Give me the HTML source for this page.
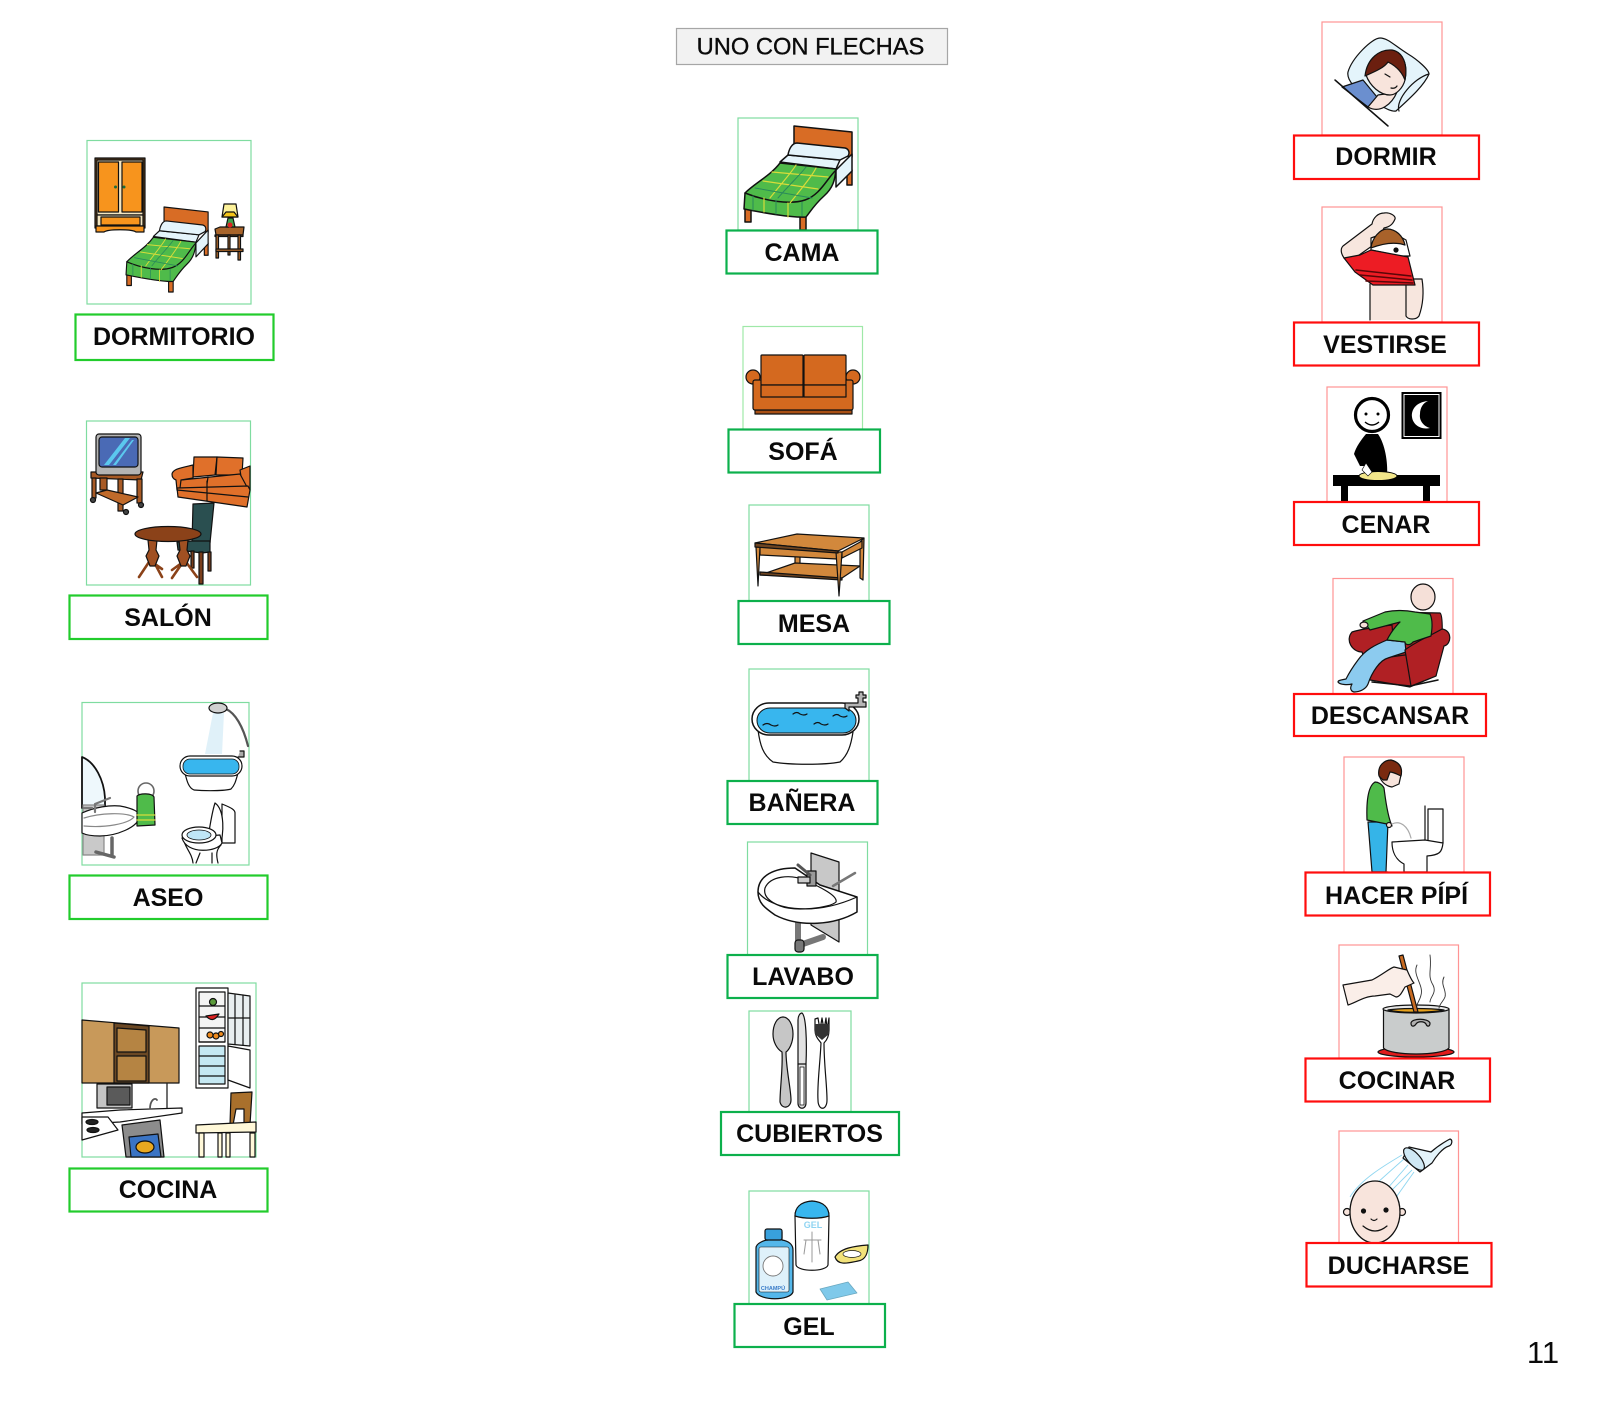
<!DOCTYPE html>
<html lang="es"><head><meta charset="utf-8"><title>UNO CON FLECHAS</title>
<style>
html,body{margin:0;padding:0;background:#fff}
svg{display:block;filter:blur(.35px)}
.t{font-family:"Liberation Sans",Arial,sans-serif;font-weight:700;font-size:25px;text-anchor:middle;fill:#0a0a0a}
.bl{fill:none;stroke:#7fdca0;stroke-width:1.2}
.br{fill:none;stroke:#ff9494;stroke-width:1.2}
.lg{fill:#fff;stroke:#22cc2c;stroke-width:2.2}
.lc{fill:#fff;stroke:#0cb04c;stroke-width:2.2}
.lr{fill:#fff;stroke:#ff0d0d;stroke-width:2.2}
.o{stroke:#111;stroke-width:1.2;stroke-linejoin:round;stroke-linecap:round}
.n{fill:none}
</style></head><body>
<svg xmlns="http://www.w3.org/2000/svg" width="1600" height="1404" viewBox="0 0 1600 1404">
<defs>
<g id="bed" class="o" style="stroke-width:1.500px">
<polygon points="794,126 852,132 852,157 794,147" fill="#d86c25"/>
<polygon points="847,170 852,170 852,185 847,185" fill="#d86c25"/>
<polygon points="745,208 751,208 751,222 745,222" fill="#d86c25"/>
<polygon points="800,215 806,215 806,230 800,230" fill="#d86c25"/>
<path d="M836 170L852 154V171L836 187Z" fill="#e4f4fb"/>
<path d="M780 162L788 155L840 160L836 169Z" fill="#e4f4fb"/>
<path d="M788 155C789 149 792 143 797 143L845 148C849 149 850 153 848 156L840 160Z" fill="#e4f4fb"/>
<path d="M745 193C755 183 770 176 780 163L836 169C835 180 833 188 824 196C815 204 810 212 806 217C790 218 760 212 744 209Z" fill="#4fbb4a"/>
<path d="M745 193C765 201 790 205 805 200C820 195 826 180 836 170" class="n"/>
<g fill="none" stroke="#d7dc3a" stroke-width="1.200"><path d="M763 181L818 189M772 172L828 177M770 198C780 185 792 172 796 165M790 203C802 188 812 176 816 168M764 198V212M788 203V217"/></g>
<g fill="none" stroke="#2a8a5a" stroke-width="1"><path d="M755 188L812 198M778 198C788 186 800 175 806 167M753 196V210M776 200V214M802 202V216"/></g>
</g>
<g id="bath" class="o">
<path d="M758 730C760 745 763 755 773 762C790 765 825 765 840 762C848 755 851 745 853 732Z" fill="#fff"/>
<rect x="752" y="703" width="107" height="32" rx="17" fill="#fff" stroke-width="1.500"/>
<rect x="757" y="708" width="99" height="25" rx="13" fill="#38b6ee" stroke-width="1"/>
<path d="M763 725q4-3 8 0q4 2 7 0M793 714q4-3 7 0q4 2 7 0M814 724q4-3 7 0q4 2 7 0M833 716q4-3 7 0q4 2 7 0" class="n"/>
<path d="M845 708V703H858V698H856V695H859V692H863V695H866V698H863V702H866V707H849V711Z" fill="#b5b5b5"/>
</g>
</defs>

<!-- title -->
<rect x="676.500" y="28.500" width="271" height="36" fill="#f2f2f2" stroke="#a6a6a6" stroke-width="1.200"/>
<text x="810.500" y="54.500" style="font-family:'Liberation Sans',Arial,sans-serif;font-size:23.700px;text-anchor:middle;fill:#0a0a0a;stroke:#0a0a0a;stroke-width:.35px">UNO CON FLECHAS</text>

<!-- DORMITORIO -->
<rect x="87" y="140.500" width="164" height="163.500" class="bl" style="fill:#fff"/>
<g class="o" fill="#f7941d">
<rect x="95" y="158" width="50" height="70" fill="#5c3b1a"/>
<rect x="97" y="160" width="46" height="55" fill="#f5e6c0"/>
<rect x="98.500" y="162" width="20" height="50"/><rect x="122" y="162" width="20" height="50"/>
<rect x="97" y="215" width="46" height="11" fill="#f5e6c0"/><rect x="101" y="217" width="39" height="8"/>
<path d="M96 226H144V232H136C132 229 108 229 104 232H96Z"/>
</g>
<circle cx="115.500" cy="187" r="1.500" fill="#1c6b3a"/><circle cx="124" cy="187" r="1.500" fill="#1c6b3a"/>
<use href="#bed" transform="translate(-439.4 104.100) scale(.76 .817)"/>
<g class="o" fill="#a8642a" stroke-width=".9">
<path d="M215 229L220 227H244L243 235H216Z"/><rect x="215" y="235" width="28" height="1.500"/>
<rect x="216" y="235" width="2.500" height="23"/><rect x="238" y="235" width="2.500" height="25"/><rect x="228" y="235" width="2" height="20"/><rect x="216" y="249" width="27" height="2.500"/>
<path d="M224 204H236L238 217H222Z" fill="#fdf29a"/><path d="M222 217L238 217L234 212H226Z" fill="#f4c51a"/>
<path d="M228 218H233L235 227H226Z" fill="#3fa04a"/><circle cx="230" cy="225" r="2.500" fill="#dd2222" stroke="none"/>
</g>
<rect x="75.500" y="314.500" width="198" height="45.500" class="lg"/>
<text x="174" y="345" class="t">DORMITORIO</text>

<!-- SALON -->
<rect x="86.500" y="421" width="164" height="164" class="bl" style="fill:#fff"/>
<g class="o" stroke-width="1">
<path d="M91 472L143 472L141 480L91 478Z" fill="#a85a25"/>
<path d="M92 478H96V498H92ZM137 479H142V503H137ZM118 479H123V511H118ZM100 478H107V490H100Z" fill="#a85a25"/>
<path d="M96 493L107 490L138 497L123 505Z" fill="#c06a2a"/>
<circle cx="93" cy="500" r="2.500" fill="#444"/><circle cx="141" cy="505" r="2.500" fill="#444"/><circle cx="126" cy="512" r="2.500" fill="#444"/>
<rect x="96" y="434" width="45" height="41" rx="3" fill="#b4b4b4"/>
<rect x="99" y="437" width="39" height="30" rx="3" fill="#4a6ab5"/>
<path d="M104 465L125 438H130L109 465ZM113 465L132 440H134L116 465Z" fill="#5bc8ee" stroke="none"/>
<!-- salon sofa -->
<polygon points="194,457 217,457 215,475 193,477" fill="#e0702a"/>
<polygon points="217,457 243,458 242,475 216,475" fill="#e0702a"/>
<path d="M240 470L250 466V490L243 490Z" fill="#e0702a"/>
<path d="M181 480L240 474L247 487L178 489Z" fill="#e0702a"/>
<path d="M172 474C173 469 180 468 193 465L193 478L181 480L180 488L177 490L176 480C173 479 172 477 172 474Z" fill="#e0702a"/>
<path d="M177 488L248 486L250 490L247 507L178 497Z" fill="#e0702a"/>
<path d="M177 490L248 497M207 481L207 501M208 477L207 484" class="n"/>
<path d="M193 504L214 503L210 543H192Z" fill="#2a4f50"/>
<path d="M177 542L192 541H210V552L202 553L178 550Z" fill="#2a4f50"/>
<path d="M199 552H203L203 584H199ZM208 552H211L211 571H208ZM191 551H194V568H191Z" fill="#7a3e1c"/>
<path d="M149 562L139 577M152 562L162 569M154 562L162 577M183 562L172 578M183 562L172 570M186 562L197 577" fill="none" stroke="#8b4219" stroke-width="2.600"/>
<path d="M148 540H157L156 550L159 556L155 566H150L146 556L149 550ZM179 540H188L187 550L190 556L186 566H181L177 556L180 550Z" fill="#a05022"/>
<ellipse cx="168" cy="534" rx="33" ry="7.500" fill="#8b4219"/>
</g>
<rect x="69.500" y="595.500" width="198" height="43.500" class="lg"/>
<text x="168" y="626" class="t">SALÓN</text>

<!-- ASEO -->
<rect x="82" y="702.500" width="167" height="162.500" class="bl" style="fill:#fff"/>
<g class="o" stroke-width="1">
<polygon points="213,713 224,713 222,754 205,754" fill="#e0f1f9" stroke="none"/>
<path d="M226 709C235 713 243 726 248 746" fill="none" stroke="#555" stroke-width="2.200"/>
<ellipse cx="218" cy="708" rx="9" ry="5" fill="#d0d0d0"/>
<path d="M185 773C187 782 189 788 194 790C205 791 225 791 231 789C235 785 236 780 238 773Z" fill="#fff"/>
<rect x="180" y="756" width="62" height="20" rx="10" fill="#fff"/>
<rect x="183" y="759" width="56" height="15" rx="7" fill="#38b6ee" stroke-width=".8"/>
<path d="M238 757H244V751H240" fill="#aaa"/>
<path d="M82 757C95 762 104 780 105 798V808H82Z" fill="#eef8fc" stroke-width="1.800"/>
<rect x="83" y="805" width="21" height="50" fill="#c9c9c9" stroke="#888"/>
<path d="M112 838V855M96 852L114 857" fill="none" stroke="#666" stroke-width="3.500"/>
<path d="M82 813C95 807 110 805 120 806C132 808 140 812 140 816C138 828 115 836 100 836C92 836 86 835 82 833Z" fill="#fff"/>
<path d="M84 818C100 813 125 812 134 817C128 824 105 828 84 826" class="n" stroke="#888"/>
<path d="M95 812V804L110 798M84 808H92" fill="none" stroke="#777" stroke-width="2.200"/>
<circle cx="146" cy="791" r="8" fill="#fff" stroke="#666" stroke-width="1.600"/>
<path d="M137 796C140 793 152 793 154 797L155 825L137 826Z" fill="#4fbb4a"/>
<path d="M137 815H155M137 820H155" stroke="#d7dc3a" fill="none"/>
<path d="M222 804C232 808 235 810 235 813V843H222Z" fill="#fff"/>
<path d="M215 803C225 810 224 835 220 845L208 838C210 825 212 812 215 803Z" fill="#fff"/>
<path d="M183 838C185 848 192 853 193 863M221 845C216 850 216 855 218 863M196 863L200 853M212 863V853" fill="#fff"/>
<path d="M182 838C187 855 218 852 222 843L220 835Z" fill="#fff"/>
<ellipse cx="199" cy="835" rx="17" ry="8" fill="#fff"/><ellipse cx="199" cy="835" rx="12" ry="5" fill="#bfe6f6" stroke-width=".8"/>
</g>
<rect x="69.500" y="875.500" width="198" height="43.500" class="lg"/>
<text x="168" y="906" class="t">ASEO</text>

<!-- COCINA -->
<rect x="82" y="983" width="174" height="174" class="bl" style="fill:#fff"/>
<g class="o" stroke-width="1">
<polygon points="82,1020 179,1028 179,1083 82,1083" fill="#c8995a"/>
<polygon points="114,1023 149,1026 149,1083 114,1083" fill="#6b4824"/>
<polygon points="117,1028 146,1030 146,1052 117,1052" fill="#b58443"/>
<polygon points="117,1056 146,1056 146,1081 117,1081" fill="#b58443"/>
<path d="M167 1084V1110" class="n"/>
<rect x="196" y="988" width="32" height="100" fill="#fff"/>
<rect x="199" y="992" width="26" height="50" fill="#f4f4f4"/>
<rect x="199" y="1046" width="26" height="38" fill="#c5e8f2"/>
<path d="M199 1006H225M199 1017H225M199 1028H225M199 1042H225M199 1056H225M199 1066H225M199 1076H225" class="n"/>
<polygon points="228,993 250,996 250,1046 228,1044" fill="#e8eef0"/>
<path d="M235 995V1044M243 995V1045M229 1018H250" class="n"/>
<polygon points="228,1046 250,1050 250,1088 228,1080" fill="#fff"/>
<path d="M206 1016Q213 1024 219 1014Z" fill="#dd2222"/><circle cx="213" cy="1002" r="3.500" fill="#5a9a3a"/>
<circle cx="210" cy="1035" r="3" fill="#f08a1c"/><circle cx="216" cy="1036" r="3" fill="#f08a1c"/><circle cx="221" cy="1034" r="2.500" fill="#f08a1c"/>
<rect x="97" y="1084" width="35" height="24" fill="#c4c4c4"/><rect x="107" y="1087" width="23" height="18" fill="#5a5a5a"/>
<path d="M82 1113L120 1110L182 1108V1113L120 1122L82 1124Z" fill="#fff"/>
<path d="M150 1109C150 1100 155 1097 157 1100" fill="none" stroke="#555" stroke-width="1.800"/>
<path d="M82 1117H108L118 1130L82 1140Z" fill="#fff"/>
<ellipse cx="92" cy="1122" rx="6" ry="2.500" fill="#222"/><ellipse cx="93" cy="1130" rx="6" ry="2.500" fill="#222"/>
<polygon points="122,1125 160,1120 164,1157 126,1157" fill="#8c8c8c"/>
<polygon points="129,1137 158,1134 161,1157 131,1157" fill="#3a74c4"/>
<ellipse cx="145" cy="1147" rx="9" ry="6" fill="#e8a820"/>
<path d="M231 1093L252 1092L250 1125H244L244 1109H236L233 1125H230Z" fill="#a9702c"/>
<polygon points="196,1125 256,1122 256,1132 196,1133" fill="#fff8d8"/>
<path d="M199 1133H204V1157H199ZM218 1133H222V1157H218ZM226 1133H230V1157H226ZM250 1133H255V1157H250Z" fill="#fff8d8"/>
</g>
<rect x="69.500" y="1168.500" width="198" height="43" class="lg"/>
<text x="168" y="1198" class="t">COCINA</text>

<!-- CAMA -->
<rect x="738" y="118" width="120" height="112" class="bl" style="fill:#fff"/>
<use href="#bed"/>
<rect x="726.500" y="230.500" width="151" height="43" class="lc"/>
<text x="802" y="261" class="t">CAMA</text>

<!-- SOFA -->
<rect x="743" y="326.500" width="119.500" height="103" style="fill:#fff;stroke:#9fe8a8;stroke-width:1.200"/>
<g class="o" fill="#d4691f" stroke-width="1.500">
<rect x="755" y="410" width="97" height="4" fill="#a84f14"/>
<circle cx="753" cy="377" r="7"/><circle cx="853" cy="377" r="7"/>
<rect x="753" y="380" width="100" height="30" rx="2"/>
<rect x="761" y="355" width="42" height="30" rx="1"/><rect x="804" y="355" width="42" height="30" rx="1"/>
<rect x="761" y="385" width="42" height="12"/><rect x="804" y="385" width="42" height="12"/>
</g>
<rect x="728.500" y="429.500" width="151.500" height="43" class="lc"/>
<text x="803" y="460" class="t">SOFÁ</text>

<!-- MESA -->
<rect x="749" y="505" width="120" height="96" class="bl" style="fill:#fff"/>
<g class="o" fill="#d2883c" stroke-width="1.100">
<polygon points="795,552 800,552 800,565 795,565"/>
<polygon points="760,575 795,563 860,566 842,578"/>
<polygon points="760,575 842,580 842,578 760,572" fill="#6e4420"/>
<polygon points="860,542 864,538 863,580 860,578"/>
<polygon points="760,547 837,552 837,559 760,555"/>
<polygon points="842,552 862,541 862,548 842,558"/>
<polygon points="756,547 760,547 758,586"/>
<polygon points="836,552 842,552 839,596"/>
<polygon points="755,543 797,534 864,538 838,551"/>
<polygon points="755,543 838,551 838,553 755,547" fill="#6e4420"/>
</g>
<rect x="738.500" y="601" width="151" height="43" class="lc"/>
<text x="814" y="632" class="t">MESA</text>

<!-- BANERA -->
<rect x="749" y="669" width="120" height="112" class="bl" style="fill:#fff"/>
<use href="#bath"/>
<rect x="727.500" y="781" width="150" height="43" class="lc"/>
<text x="802" y="811" class="t">BAÑERA</text>

<!-- LAVABO -->
<rect x="747.500" y="842" width="120" height="113" class="bl" style="fill:#fff"/>
<g class="o">
<polygon points="811,853 839,862 839,942 811,925" fill="#c8c8c8"/>
<path d="M798 923V940M800 945L823 937" fill="none" stroke="#777" stroke-width="6"/>
<rect x="795" y="940" width="9" height="12" rx="3" fill="#777"/>
<path d="M758 892C758 875 775 868 795 868L820 885L857 897V912C835 925 800 928 775 915C765 908 758 903 758 892Z" fill="#fff" stroke-width="1.500"/>
<path d="M765 888C770 876 790 874 805 880C822 888 838 896 836 902C830 908 795 912 780 906C770 902 763 896 765 888Z" fill="#fff"/>
<path d="M758 892C770 908 810 918 857 897" class="n"/>
<rect x="807" y="871" width="9" height="15" fill="#999"/><rect x="798" y="877" width="12" height="6" fill="#ccc"/>
<path d="M810 875L798 865" fill="none" stroke="#555" stroke-width="3"/>
<path d="M833 886L855 873" fill="none" stroke="#777" stroke-width="2.500"/>
</g>
<rect x="727.500" y="955" width="150" height="43" class="lc"/>
<text x="803" y="985" class="t">LAVABO</text>

<!-- CUBIERTOS -->
<rect x="749" y="1011" width="102" height="101" class="bl" style="fill:#fff"/>
<g class="o">
<path d="M783 1017C789 1017 793 1025 793 1034C793 1043 789 1050 786 1052C786 1068 791 1090 791 1100C791 1108 782 1110 780 1102C780 1088 783 1068 782 1052C777 1049 773 1042 773 1034C773 1025 777 1017 783 1017Z" fill="#c6c6c6"/>
<path d="M802 1013C806 1016 807 1040 806 1064V1103C806 1110 798 1110 798 1103V1020C798 1016 800 1013 802 1013Z" fill="#e2e2e2"/>
<path d="M798 1064H806" class="n"/><rect x="800" y="1067" width="4" height="38" fill="#fff" stroke-width=".8"/>
<path d="M815 1019V1030C815 1037 819 1040 821 1043C820 1065 817 1085 818 1100C818 1111 827 1111 827 1100C827 1085 824 1065 824 1043C827 1040 829 1036 829 1030V1018L827 1030L826 1018L824 1030L822 1018L820 1030L818 1018Z" fill="#fff"/>
<path d="M815 1024H829V1034L822 1040L815 1034Z" fill="#333" stroke="none"/>
</g>
<rect x="721" y="1112" width="178" height="43" class="lc"/>
<text x="809.500" y="1142" class="t">CUBIERTOS</text>

<!-- GEL -->
<rect x="749" y="1191" width="120" height="113" class="bl" style="fill:#fff"/>
<g class="o" stroke-width="1">
<path d="M795 1216C795 1208 800 1202 812 1201C824 1202 829 1208 829 1216L828 1265C826 1272 798 1272 796 1265Z" fill="#fff"/>
<path d="M795 1216C795 1208 800 1202 812 1201C824 1202 829 1208 829 1216C820 1219 804 1219 795 1216Z" fill="#38b6ee"/>
<path d="M812 1232V1262M804 1240L821 1240M806 1240L804 1254M818 1240L820 1254" fill="none" stroke="#999" stroke-width="1"/>
<path d="M756 1248C756 1243 765 1240 768 1240V1232H782V1240C788 1241 793 1244 793 1250V1292C790 1301 760 1301 756 1292Z" fill="#54b7ea"/>
<rect x="765" y="1229" width="17" height="11" rx="2" fill="#38a0dc"/>
<rect x="759" y="1247" width="30" height="45" rx="2" fill="#dff1fa" stroke-width=".6"/>
<circle cx="773" cy="1266" r="10" fill="#fff" stroke="#777" stroke-width=".9"/>
<path d="M835 1257C840 1248 855 1246 868 1245C868 1252 866 1260 858 1261C848 1263 838 1266 835 1257Z" fill="#f2e27a"/>
<ellipse cx="852" cy="1254" rx="9" ry="3.500" fill="#fff" stroke-width=".7"/>
<polygon points="820,1289 848,1282 857,1293 827,1300" fill="#7fc9ea" stroke="#6aa8c0" stroke-width=".8"/>
</g>
<text x="813" y="1228" style="font-family:'Liberation Sans',Arial,sans-serif;font-size:9px;text-anchor:middle;fill:#8fd4f2;font-weight:700">GEL</text>
<text x="773" y="1290" style="font-family:'Liberation Sans',Arial,sans-serif;font-size:5.500px;text-anchor:middle;fill:#3a7cc8;font-weight:700">CHAMPÚ</text>
<rect x="734.500" y="1304" width="150.500" height="43" class="lc"/>
<text x="809" y="1335" class="t">GEL</text>

<!-- DORMIR -->
<rect x="1322" y="22" width="120" height="113" class="br" style="fill:#fff"/>
<g class="o" stroke-width="1.200">
<path d="M1348 72C1352 58 1372 38 1380 38C1388 38 1395 46 1408 54C1418 60 1429 70 1429 74C1424 86 1408 100 1396 111C1390 112 1382 106 1370 100C1360 92 1346 82 1348 72Z" fill="#e4f4fb"/>
<path d="M1399 111C1395 100 1414 78 1429 74" class="n"/>
<path d="M1342 87L1363 80L1377 97L1368 107Z" fill="#6b8fcf"/>
<path d="M1368 107L1378 95C1385 94 1392 93 1397 92C1392 104 1380 114 1368 107Z" fill="#f8e4dc"/>
<path d="M1366 75C1368 60 1380 50 1392 51C1403 53 1408 64 1405 80C1403 88 1396 95 1390 95C1380 95 1370 86 1366 75Z" fill="#f8e4dc"/>
<path d="M1365 76C1367 58 1380 49 1392 50C1403 52 1408 64 1405 80C1402 72 1396 66 1388 62C1384 68 1374 72 1365 76Z" fill="#6b1f0f"/>
<path d="M1335 80L1388 126" fill="none" stroke-width="1.500"/>
<path d="M1385 74l5 3M1391 88q4 1 6-2" class="n"/>
</g>
<rect x="1294" y="135.500" width="185" height="43.500" class="lr"/>
<text x="1386" y="165" class="t">DORMIR</text>

<!-- VESTIRSE -->
<rect x="1322" y="207" width="120" height="115" class="br" style="fill:#fff"/>
<g class="o" stroke-width="1.100">
<path d="M1370 284V320H1406V284Z" fill="#f7e6de" stroke="none"/>
<path d="M1370 284V320" class="n"/>
<path d="M1406 284V316C1408 320 1416 320 1419 316C1423 305 1424 292 1422 279L1412 279Z" fill="#f7e6de"/>
<path d="M1344 258C1340 252 1341 248 1343 246L1372 224C1373 218 1378 213 1384 213C1390 212 1396 216 1395 219C1393 224 1390 227 1384 228C1382 232 1378 238 1372 246L1352 260Z" fill="#f7e6de"/>
<path d="M1371 250V238L1390 231L1406 240L1410 256H1400Z" fill="#fff"/>
<path d="M1371 248C1372 238 1380 229 1387 229C1396 229 1403 236 1405 245C1396 242 1384 243 1371 248Z" fill="#a8622a"/>
<circle cx="1396" cy="250" r="2" fill="#111"/>
<polygon points="1344,258 1360,255 1371,250 1408,257 1415,285 1373,285 1355,272" fill="#ed1c24"/>
<path d="M1356 270L1411 276M1360 275L1412 280M1366 281L1413 283" fill="none" stroke="#5a0608" stroke-width="1.500"/>
</g>
<rect x="1294" y="322.500" width="185" height="43" class="lr"/>
<text x="1385" y="353" class="t">VESTIRSE</text>

<!-- CENAR -->
<rect x="1327" y="387" width="120" height="115" class="br" style="fill:#fff"/>
<circle cx="1372" cy="415" r="16.500" fill="#fff" stroke="#000" stroke-width="3.200"/>
<circle cx="1366" cy="414" r="1.500"/><circle cx="1378" cy="414" r="1.500"/>
<path d="M1365 422q7 6 14 0" fill="none" stroke="#000" stroke-width="1.400"/>
<path d="M1366 434H1378C1385 444 1388 462 1387 476H1372L1366 466L1360 466L1354 454C1356 447 1361 440 1366 434Z" fill="#000"/>
<rect x="1333" y="475" width="107" height="11" fill="#000"/>
<rect x="1341" y="486" width="7" height="16" fill="#000"/><rect x="1423" y="486" width="7" height="16" fill="#000"/>
<ellipse cx="1378" cy="476" rx="19" ry="4.500" fill="#f2e68a" stroke="#000"/>
<path d="M1366 463L1372 472L1368 476L1362 470Z" fill="#fff" stroke="#000" stroke-width=".6"/>
<rect x="1401.500" y="392" width="40" height="47" fill="#000"/>
<rect x="1404" y="394.500" width="35" height="42" fill="none" stroke="#fff" stroke-width="1"/>
<path d="M1428 401C1416 402 1411 410 1412 417C1413 425 1421 430 1430 428C1423 426 1419 420 1420 414C1420 408 1423 403 1428 401Z" fill="#fff"/>
<rect x="1294" y="502" width="185" height="43" class="lr"/>
<text x="1386" y="533" class="t">CENAR</text>

<!-- DESCANSAR -->
<rect x="1333" y="578.500" width="120" height="115.500" class="br" style="fill:#fff"/>
<g class="o" stroke-width="1.100">
<path d="M1387 612L1440 613Q1443 615 1442 640L1400 660Z" fill="#b02024"/>
<path d="M1352 632C1365 628 1385 626 1392 625L1395 660L1372 665L1372 680L1362 652C1352 652 1345 640 1352 632Z" fill="#b02024"/>
<path d="M1368 660L1405 655L1440 640L1436 676L1410 687L1370 680Z" fill="#b02024"/>
<path d="M1372 682L1410 686L1438 680" fill="none" stroke-width="1.500"/>
<path d="M1387 640C1375 645 1365 650 1358 660C1352 668 1348 675 1346 679C1342 680 1338 680 1338 682C1340 685 1348 685 1352 684C1350 687 1350 691 1354 692C1360 692 1366 689 1368 684C1372 672 1380 660 1388 658L1406 652L1405 642Z" fill="#8ccbef"/>
<path d="M1405 650C1415 642 1430 636 1442 629C1452 630 1452 644 1444 646L1436 676L1411 686Z" fill="#b02024"/>
<path d="M1363 621L1385 612C1395 610 1405 610 1415 612L1430 614C1433 620 1432 630 1431 636L1413 642C1410 646 1405 645 1405 642L1387 640C1392 630 1398 624 1400 622L1370 630Z" fill="#4fbb4a"/>
<ellipse cx="1364" cy="625" rx="4" ry="3" fill="#f5e0d8"/>
<ellipse cx="1423" cy="597" rx="12" ry="13" fill="#f5e0d8"/>
</g>
<rect x="1294" y="694" width="192" height="42" class="lr"/>
<text x="1390" y="724" class="t">DESCANSAR</text>

<!-- HACER PIPI -->
<rect x="1344" y="757" width="120" height="115.500" class="br" style="fill:#fff"/>
<g class="o" stroke-width="1.100">
<path d="M1368 822L1388 822L1386 872H1372Z" fill="#35b4e8"/>
<path d="M1372 872H1388" class="n"/>
<path d="M1375 782C1370 785 1366 795 1367 820L1387 824L1392 826C1387 815 1385 795 1384 788C1382 784 1378 782 1375 782Z" fill="#4fbb4a"/>
<path d="M1379 775C1378 765 1385 761 1391 761C1399 763 1402 770 1401 775L1399 784L1392 787C1386 786 1381 782 1379 775Z" fill="#f8e4dc"/>
<path d="M1379 776C1377 765 1385 760 1391 760C1399 762 1403 767 1401 776C1395 773 1392 772 1390 772L1387 780L1383 780Z" fill="#7a2a10"/>
<circle cx="1389" cy="825" r="2.500" fill="#f8e4dc"/>
<path d="M1392 824C1400 820 1408 826 1411 838" fill="none" stroke="#aaa"/>
<path d="M1425 806V843M1428 809H1443V843H1428Z" fill="#fff"/>
<path d="M1392 842L1425 840L1443 843C1442 852 1440 855 1427 856V872H1404V864C1396 860 1392 852 1392 842Z" fill="#fff"/>
</g>
<rect x="1305.500" y="872.500" width="184.500" height="43" class="lr"/>
<text x="1396.500" y="904" class="t">HACER PÍPÍ</text>

<!-- COCINAR -->
<rect x="1339" y="945" width="119.500" height="113" class="br" style="fill:#fff"/>
<g class="o" stroke-width="1.100">
<ellipse cx="1416" cy="1052" rx="38" ry="5" fill="#e01b1b"/>
<path d="M1383.500 1009V1048C1390 1056 1442 1056 1449 1048V1009Z" fill="#c9cccc"/>
<ellipse cx="1416" cy="1009" rx="33" ry="4" fill="#e8e8e8"/>
<path d="M1388 1010C1400 1013 1430 1013 1444 1010C1430 1008 1400 1008 1388 1010Z" fill="#e8a21c"/>
<path d="M1411 1023C1412 1018 1428 1018 1430 1023C1430 1027 1427 1027 1426 1024C1424 1021 1418 1021 1416 1024C1414 1027 1411 1027 1411 1023Z" fill="#b0b0b0"/>
<path d="M1399 956L1403 955L1418 1012L1414 1012Z" fill="#c86a20"/>
<path d="M1343 985L1372 980C1382 975 1390 968 1394 967L1407 970C1410 977 1413 982 1414 983L1405 987C1402 992 1400 997 1396 997L1390 994L1375 996C1365 996 1355 1003 1348 1005Z" fill="#faeee8"/>
<path d="M1417 965C1412 975 1424 985 1421 995C1420 1000 1417 1003 1417 1006M1430 955C1432 970 1427 975 1433 985C1437 993 1430 997 1430 1002M1444 977C1440 985 1447 990 1445 997C1443 1002 1440 1003 1439 1008" fill="none" stroke="#333" stroke-width=".9"/>
</g>
<rect x="1305.500" y="1058.500" width="184.500" height="43" class="lr"/>
<text x="1397" y="1089" class="t">COCINAR</text>

<!-- DUCHARSE -->
<rect x="1339" y="1131" width="119.500" height="112" class="br" style="fill:#fff"/>
<g fill="none" stroke="#8fd6f0" stroke-width=".9">
<path d="M1350 1197C1360 1180 1385 1165 1402 1155M1358 1200L1405 1158M1372 1206L1408 1165M1386 1196L1412 1170M1392 1203L1414 1172"/>
</g>
<g class="o" stroke-width="1.100">
<path d="M1431 1152C1440 1144 1450 1139 1450 1139C1453 1140 1452 1145 1449 1146C1442 1148 1435 1158 1432 1163L1420 1172L1403 1158L1409 1147Z" fill="#e4f4fb"/>
<ellipse cx="1414" cy="1159" rx="6" ry="14" transform="rotate(-42 1414 1159)" fill="#cfe8f4"/>
<circle cx="1347" cy="1212" r="3.500" fill="#f8e4dc"/><circle cx="1402" cy="1212" r="3.500" fill="#f8e4dc"/>
<ellipse cx="1375" cy="1212" rx="25" ry="31" fill="#f8e4dc" stroke-width="1.300"/>
<path d="M1363 1226q12 10 24 0M1371 1219q3 3 6 0" class="n"/>
</g>
<circle cx="1363.500" cy="1211" r="2.600" fill="#111"/><circle cx="1386" cy="1210" r="2.600" fill="#111"/>
<rect x="1306.500" y="1243" width="185" height="43.500" class="lr"/>
<text x="1398.500" y="1274" class="t">DUCHARSE</text>

<text x="1543" y="1363" style="font-family:'Liberation Sans',Arial,sans-serif;font-size:31px;text-anchor:middle;fill:#0a0a0a">11</text>
</svg>
</body></html>
